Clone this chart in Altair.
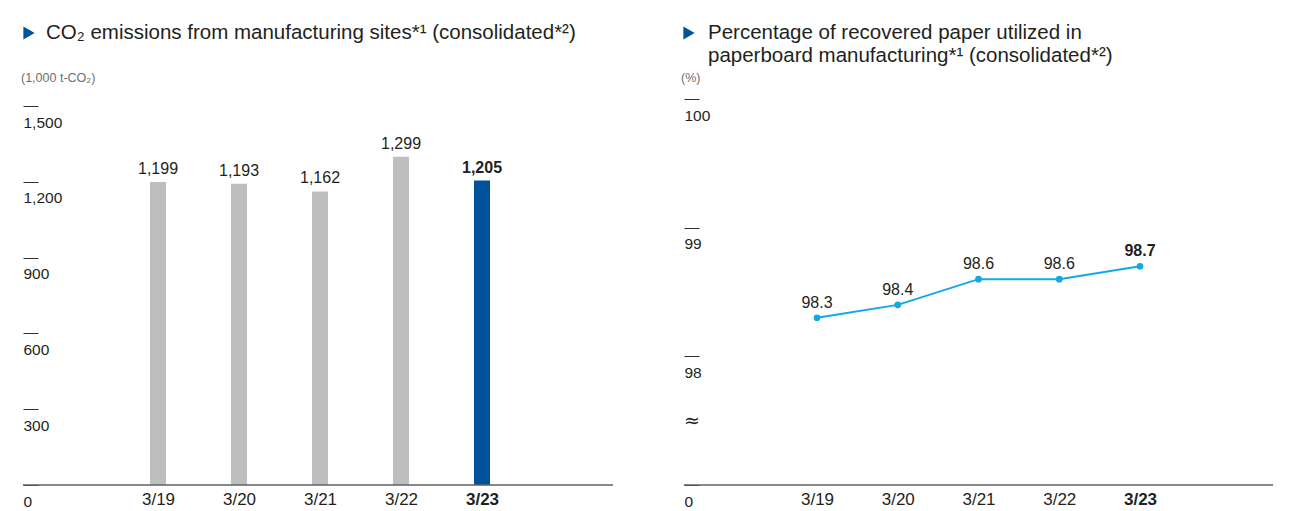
import altair as alt
import pandas as pd

FONT = "Liberation Sans"
TXT = "#231f20"

# ---- data ----
years = ["3/19", "3/20", "3/21", "3/22", "3/23"]
highlight_year = "3/23"
co2_values = [1199, 1193, 1162, 1299, 1205]
co2_ticks = [0, 300, 600, 900, 1200, 1500]
paper_values = [98.3, 98.4, 98.6, 98.6, 98.7]
paper_ticks = [97, 98, 99, 100]

title_left = "CO\u2082 emissions from manufacturing sites*\u00b9 (consolidated*\u00b2)"
unit_left = "(1,000 t-CO\u2082)"
title_right_1 = "Percentage of recovered paper utilized in"
title_right_2 = "paperboard manufacturing*\u00b9 (consolidated*\u00b2)"
unit_right = "(%)"

df1 = pd.DataFrame({"year": years, "value": co2_values})
df2 = pd.DataFrame({"year": years, "value": paper_values})

hl_test = f"datum.year == '{highlight_year}'"
label_weight = {"condition": {"test": f"datum.value == '{highlight_year}'", "value": "bold"}, "value": "normal"}


def x_enc(rng):
    return alt.X(
        "year:N", sort=years,
        scale=alt.Scale(type="point", range=rng, padding=0),
        axis=alt.Axis(title=None, labelAngle=0, ticks=False, domain=False,
                      labelFontSize=17, labelColor=TXT, labelFont=FONT,
                      labelPadding=6, labelFontWeight=label_weight),
    )


def y_axis(ticks, expr):
    return alt.Axis(title=None, values=ticks, grid=False, domain=False, tickSize=15,
                    tickColor="#333333", tickWidth=1, offset=-15, labelAlign="left",
                    labelBaseline="middle", labelPadding=0, labelOffset=16, labelFontSize=15.5,
                    labelColor=TXT, labelFont=FONT, labelExpr=expr)


def baseline(width, yval):
    return alt.Chart(pd.DataFrame({"b": [yval]})).mark_rule(
        color="#5f6062", strokeWidth=1.4
    ).encode(x=alt.value(0), x2=alt.value(width), y=alt.Y("b:Q"))


def header(lines, tri_x, text_x, unit, unit_x):
    one = pd.DataFrame({"k": [0]})
    layers = [
        alt.Chart(one).mark_point(shape="triangle-right", filled=True, size=170, opacity=1,
                                  color="#00529b")
        .encode(x=alt.value(tri_x + 6), y=alt.value(-66)),
        alt.Chart(one).mark_text(align="left", baseline="middle", font=FONT, fontSize=20.5,
                                 color=TXT, text=lines[0])
        .encode(x=alt.value(text_x), y=alt.value(-66)),
        alt.Chart(one).mark_text(align="left", baseline="middle", font=FONT, fontSize=12.5,
                                 color="#6d6e70", text=unit)
        .encode(x=alt.value(unit_x), y=alt.value(-21)),
    ]
    if len(lines) > 1:
        layers.append(
            alt.Chart(one).mark_text(align="left", baseline="middle", font=FONT, fontSize=20.5,
                                     color=TXT, text=lines[1])
            .encode(x=alt.value(text_x), y=alt.value(-43))
        )
    return layers


# ---- left: bars ----
W1, W2, H = 590, 589, 386
base1 = alt.Chart(df1).encode(x=x_enc([135, 459]))
bars = base1.mark_bar(size=16).encode(
    y=alt.Y("value:Q", scale=alt.Scale(domain=[0, 1528], nice=False),
            axis=y_axis(co2_ticks, "format(datum.value, ',')")),
    color=alt.condition(hl_test, alt.value("#00529b"), alt.value("#bcbec0")),
)
lab1 = base1.mark_text(dy=-13, baseline="middle", font=FONT, fontSize=16, color=TXT).encode(
    y="value:Q", text=alt.Text("value:Q", format=",")
).transform_filter(f"!({hl_test})")
lab1b = base1.mark_text(dy=-13, baseline="middle", font=FONT, fontSize=16, fontWeight="bold",
                        color=TXT).encode(
    y="value:Q", text=alt.Text("value:Q", format=",")
).transform_filter(hl_test)

left = alt.layer(bars, lab1, lab1b, baseline(W1, 0),
                 *header([title_left], 0, 23, unit_left, -2)).properties(width=W1, height=H)

# ---- right: line ----
base2 = alt.Chart(df2).encode(x=x_enc([133, 456]))
yq = alt.Y("value:Q", scale=alt.Scale(domain=[97, 100], nice=False, zero=False),
           axis=y_axis(paper_ticks, "datum.value == 97 ? '0' : format(datum.value, 'd')"))
line = base2.mark_line(color="#12a9e3", strokeWidth=2).encode(y=yq)
pts = base2.mark_circle(color="#12a9e3", size=45, opacity=1).encode(y="value:Q")
lab2 = base2.mark_text(dy=-15, baseline="middle", font=FONT, fontSize=16, color=TXT).encode(
    y="value:Q", text=alt.Text("value:Q", format=".1f")
).transform_filter(f"!({hl_test})")
lab2b = base2.mark_text(dy=-15, baseline="middle", font=FONT, fontSize=16, fontWeight="bold",
                        color=TXT).encode(
    y="value:Q", text=alt.Text("value:Q", format=".1f")
).transform_filter(hl_test)
squig = alt.Chart(pd.DataFrame({"v": [97.5]})).mark_text(
    text="\u2248", align="left", baseline="middle", font="DejaVu Sans", fontSize=19, color=TXT
).encode(x=alt.value(0), y=alt.Y("v:Q"))

right = alt.layer(line, pts, lab2, lab2b, squig, baseline(W2, 97),
                  *header([title_right_1, title_right_2], -1, 24, unit_right, -3)).properties(
    width=W2, height=H)

chart = alt.hconcat(left, right, spacing=67).properties(
    padding={"left": 13, "top": 15, "right": 5, "bottom": 5},
    background="white",
).configure_view(strokeWidth=0)

chart.save("out.html", embed_options={"renderer": "svg", "actions": False})
